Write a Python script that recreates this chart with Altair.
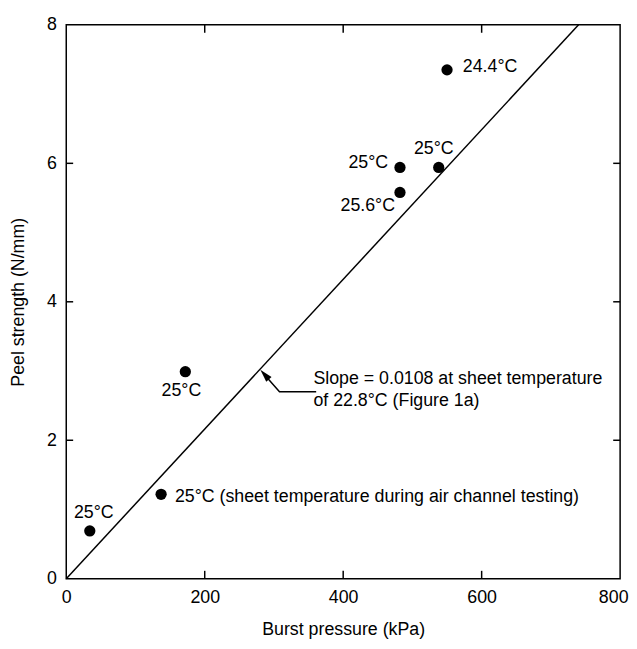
import altair as alt
import pandas as pd

# Measured points (burst pressure kPa, peel strength N/mm) and their temperature labels
burst_kpa = [34, 137, 172, 482, 538, 482, 550]
peel_n_mm = [0.69, 1.22, 2.99, 5.94, 5.94, 5.58, 7.35]
temp_labels = ["25°C", "25°C (sheet temperature during air channel testing)",
               "25°C", "25°C", "25°C", "25.6°C", "24.4°C"]

# Reference line (slope 0.0108)
fit_burst = [0, 740]
fit_peel = [0, 8]

# Slope annotation
slope_lines = ["Slope = 0.0108 at sheet temperature", "of 22.8°C (Figure 1a)"]
slope_text_x = [357, 357]
slope_text_y = [2.89, 2.56]
arrow_x = [361, 308, 287]
arrow_y = [2.70, 2.70, 2.94]
arrow_head_x = [286.5]
arrow_head_y = [2.95]

x_ticks = [0, 200, 400, 600, 800]
y_ticks = [0, 2, 4, 6, 8]
inner_x_ticks = [200, 400, 600]
inner_y_ticks = [2, 4, 6]

FONT = "Liberation Sans"
FS = 18

pts = pd.DataFrame({"burst": burst_kpa, "peel": peel_n_mm, "label": temp_labels,
                    "idx": list(range(len(burst_kpa)))})
fit = pd.DataFrame({"burst": fit_burst, "peel": fit_peel})
slope_df = pd.DataFrame({"burst": slope_text_x, "peel": slope_text_y, "label": slope_lines})
arrow_df = pd.DataFrame({"burst": arrow_x, "peel": arrow_y, "o": [0, 1, 2]})
head_df = pd.DataFrame({"burst": arrow_head_x, "peel": arrow_head_y})
xt_df = pd.DataFrame({"burst": inner_x_ticks})
yt_df = pd.DataFrame({"peel": inner_y_ticks})

xscale = alt.Scale(domain=[0, 800], nice=False, zero=False)
yscale = alt.Scale(domain=[0, 8], nice=False, zero=False)

X = alt.X("burst:Q", scale=xscale,
          axis=alt.Axis(values=x_ticks, title="Burst pressure (kPa)", ticks=False, format="d",
                        domain=False, grid=False, labelFlush=False,
                        labelOffset={"condition": {"test": "datum.value == 800", "value": -7}, "value": 0},
                        labelPadding=10, titlePadding=14))
Y = alt.Y("peel:Q", scale=yscale,
          axis=alt.Axis(values=y_ticks, title="Peel strength (N/mm)", ticks=False, format="d",
                        domain=False, grid=False, labelPadding=10, titlePadding=19))

base_line = alt.Chart(fit).mark_line(color="black", strokeWidth=1.5).encode(x=X, y=Y)

points = alt.Chart(pts).mark_circle(color="black", opacity=1, size=130).encode(
    x=alt.X("burst:Q", scale=xscale), y=alt.Y("peel:Q", scale=yscale))

# label offsets (dx, dy, align) for each point
label_style = [(4, -18, "center"), (14, 3, "left"), (-4, 20, "center"), (-12, -4, "right"),
               (-5, -19, "center"), (-5, 14, "right"), (16, -3, "left")]
label_layers = []
for i, (dx, dy, al) in enumerate(label_style):
    label_layers.append(
        alt.Chart(pts).transform_filter(alt.datum.idx == i).mark_text(
            font=FONT, fontSize=FS, color="black", align=al, baseline="middle", dx=dx, dy=dy
        ).encode(x=alt.X("burst:Q", scale=xscale), y=alt.Y("peel:Q", scale=yscale), text="label:N")
    )

slope_txt = alt.Chart(slope_df).mark_text(
    font=FONT, fontSize=FS, color="black", align="left", baseline="middle"
).encode(x=alt.X("burst:Q", scale=xscale), y=alt.Y("peel:Q", scale=yscale), text="label:N")

arrow_line = alt.Chart(arrow_df).mark_line(color="black", strokeWidth=1.5).encode(
    x=alt.X("burst:Q", scale=xscale), y=alt.Y("peel:Q", scale=yscale), order="o:Q")

arrow_head = alt.Chart(head_df).mark_point(
    shape="M0,-1L-0.55,1L0.55,1Z", filled=True, color="black", opacity=1, size=170, angle=318
).encode(x=alt.X("burst:Q", scale=xscale), y=alt.Y("peel:Q", scale=yscale))

# inward ticks
bottom_ticks = alt.Chart(xt_df).mark_rule(color="black", strokeWidth=1.5).encode(
    x=alt.X("burst:Q", scale=xscale), y=alt.value(561), y2=alt.value(553))
top_ticks = alt.Chart(xt_df).mark_rule(color="black", strokeWidth=1.5).encode(
    x=alt.X("burst:Q", scale=xscale), y=alt.value(0), y2=alt.value(8))
left_ticks = alt.Chart(yt_df).mark_rule(color="black", strokeWidth=1.5).encode(
    y=alt.Y("peel:Q", scale=yscale), x=alt.value(0), x2=alt.value(7))
right_ticks = alt.Chart(yt_df).mark_rule(color="black", strokeWidth=1.5).encode(
    y=alt.Y("peel:Q", scale=yscale), x=alt.value(561), x2=alt.value(554))

chart = alt.layer(
    base_line, points, *label_layers, slope_txt, arrow_line, arrow_head,
    bottom_ticks, top_ticks, left_ticks, right_ticks
).properties(
    width=561, height=561,
    autosize=alt.AutoSizeParams(type="none"),
    padding={"left": 59, "top": 13, "right": 9, "bottom": 59},
    background="white",
).configure_view(
    stroke="black", strokeWidth=1.5
).configure_axis(
    labelFont=FONT, titleFont=FONT, labelFontSize=FS, titleFontSize=FS,
    labelColor="black", titleColor="black", titleFontWeight="normal"
)

chart.save("out.html", embed_options={"renderer": "svg", "actions": False})
